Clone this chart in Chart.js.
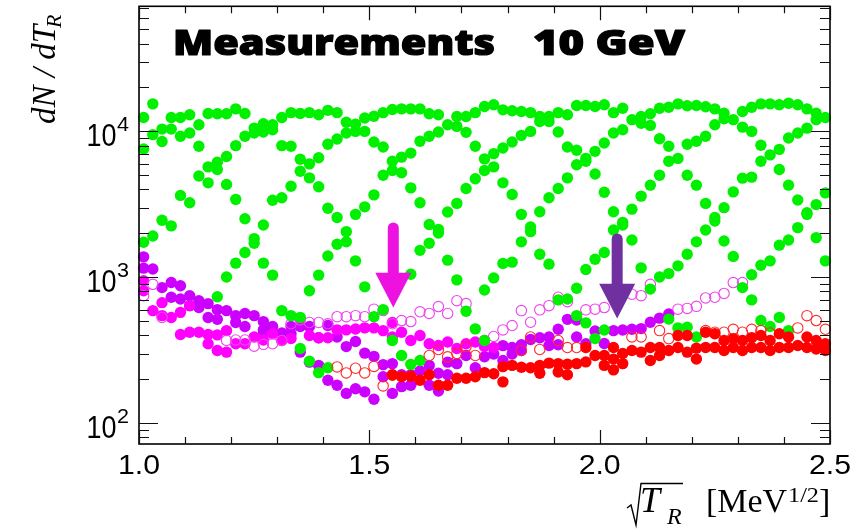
<!DOCTYPE html>
<html><head><meta charset="utf-8">
<script src="https://cdn.jsdelivr.net/npm/chart.js@4.4.1/dist/chart.umd.min.js"></script>
<style>html,body{margin:0;padding:0;background:#fff;}canvas{display:block;}</style>
</head><body>
<canvas id="c" width="867" height="529"></canvas>
<script>
// ---- axis ticks ----
const xMajorTicks = [1.0, 1.5, 2.0, 2.5];
const xTickLabels = ['1.0', '1.5', '2.0', '2.5'];
const xMinorTicks = [1.1, 1.2, 1.3, 1.4, 1.6, 1.7, 1.8, 1.9, 2.1, 2.2, 2.3, 2.4];
const yMajorTicks = [100, 1000, 10000];
const yTickExponents = ['2', '3', '4'];
const yMinorTicks = [80, 90, 200, 300, 400, 500, 600, 700, 800, 900,
  2000, 3000, 4000, 5000, 6000, 7000, 8000, 9000, 20000, 30000, 40000, 50000, 60000, 70000];

// ---- series: each row = [x, y1, y2, ...] ----
const greenFilled = [
  [1.01, 12460, 7570, 1740], [1.03, 15440, 9500, 1920], [1.05, 10370, 8520, 2460],
  [1.07, 12460, 10370, 2250], [1.09, 12460, 9250, 3640], [1.11, 13000, 9740, 3240],
  [1.13, 11100, 7900, 4950], [1.15, 13270, 5710, 4440], [1.17, 13210, 6140, 5480, 735],
  [1.19, 13210, 6720, 4330, 1005], [1.21, 14260, 7990, 3420, 1250], [1.23, 13270, 9250, 2520, 1480],
  [1.25, 10530, 9740, 1840, 1710], [1.27, 11280, 9900, 2280, 1250], [1.29, 11100, 10270, 3370, 1035],
  [1.31, 12460, 7990, 3510, 591], [1.33, 13440, 7900, 4210, 546], [1.35, 13270, 6440, 5330, 531, 325],
  [1.37, 13440, 5990, 4800, 809, 266], [1.39, 13000, 6590, 4170, 1035, 222], [1.41, 13940, 8160, 2970, 1400, 240],
  [1.43, 13440, 8860, 2570, 1685], [1.45, 11560, 9740, 2055, 1750], [1.47, 11210, 10000, 2700, 1296],
  [1.49, 12340, 10000, 3040, 860], [1.51, 12710, 8460, 3670, 537], [1.53, 13440, 7810, 5000, 600],
  [1.55, 14130, 6240, 5390, 369], [1.57, 14260, 6660, 5200, 291], [1.59, 14260, 7100, 4100, 1050, 253],
  [1.61, 14260, 8550, 3240, 1530, 269], [1.63, 13210, 9250, 2300, 1710], [1.65, 13000, 9900, 2130, 2010],
  [1.67, 11100, 2800, 1310], [1.69, 12660, 10820, 3210, 960], [1.71, 12660, 9850, 4060, 585],
  [1.73, 13440, 7900, 4740, 443], [1.75, 14810, 6480, 5390, 818, 369], [1.77, 15210, 7040, 5710, 990],
  [1.79, 14050, 7690, 4440, 1245], [1.81, 13860, 8460, 3690, 1270], [1.83, 13700, 9390, 2700, 1750],
  [1.85, 13440, 10000, 2210, 2055], [1.87, 12660, 11700, 2810, 1440], [1.89, 12660, 11700, 3510, 1230],
  [1.91, 13440, 9900, 4060, 700], [1.93, 13000, 7810, 4800, 710], [1.95, 15050, 7420, 5900, 842, 546],
  [1.97, 15050, 6530, 6240, 1130, 487], [1.99, 14810, 7300, 5100, 1330, 380], [2.01, 15210, 8330, 3830, 1480, 435],
  [2.03, 13440, 9740, 2810, 2110], [2.05, 14400, 10270, 2380, 2280], [2.07, 12030, 2930, 1800],
  [2.09, 12660, 11380, 3600, 1160], [2.11, 13210, 10990, 4280, 830], [2.13, 14400, 8900, 5000, 1005],
  [2.15, 14650, 7900, 6240, 1060, 517], [2.17, 15440, 6530, 1198, 450], [2.19, 14990, 8160, 5000, 1440, 455],
  [2.21, 15050, 8550, 4280, 1750, 390], [2.23, 14760, 9250, 3210, 2110], [2.25, 14260, 11100, 2570, 2430],
  [2.27, 13330, 12200, 3000, 1775], [2.29, 12030, 3850, 1390], [2.31, 13700, 10700, 4780, 850],
  [2.33, 14650, 10000, 4860, 1040, 700], [2.35, 15440, 8030, 6240, 1210, 505], [2.37, 15440, 6900, 1296, 460],
  [2.39, 15210, 7530, 5480, 1660, 531], [2.41, 15590, 9000, 4280, 1800, 431], [2.43, 15210, 9740, 3390, 2190],
  [2.45, 14260, 10530, 2770, 2700], [2.47, 13330, 12030, 3150, 1870], [2.49, 12460, 3790, 1296]
];
const magentaFilled = [
  [1.01, 946, 809], [1.03, 591], [1.05, 670, 546], [1.07, 530], [1.09, 575, 405], [1.11, 639, 420],
  [1.13, 420], [1.15, 405, 350], [1.17, 403, 315], [1.19, 431, 307], [1.21, 350], [1.23, 350],
  [1.25, 390], [1.27, 372], [1.29, 410], [1.31, 369], [1.33, 380], [1.35, 520], [1.37, 399],
  [1.39, 385], [1.41, 385], [1.43, 436], [1.45, 436], [1.47, 442], [1.49, 450], [1.51, 450],
  [1.53, 431], [1.55, 490, 390], [1.57, 420], [1.59, 369], [1.61, 399], [1.63, 350], [1.65, 341],
  [1.67, 360], [1.69, 325], [1.71, 350], [1.73, 360], [1.75, 369, 335], [1.77, 330]
];
const violetFilled = [
  [1.01, 1380, 1155], [1.03, 1140], [1.05, 850], [1.07, 920, 730], [1.09, 875, 710], [1.11, 748, 639],
  [1.13, 691, 620], [1.15, 660, 530], [1.17, 600, 515], [1.19, 591], [1.21, 546, 490], [1.23, 565, 460],
  [1.25, 546], [1.27, 497, 436, 410], [1.29, 460, 420], [1.31, 415], [1.33, 410, 460], [1.35, 307, 460],
  [1.37, 262, 460], [1.39, 249, 385], [1.41, 197, 467], [1.43, 182, 390], [1.45, 160, 335], [1.47, 172, 363],
  [1.49, 164, 302], [1.51, 146, 287], [1.53, 208, 252], [1.55, 160, 256], [1.57, 178, 215], [1.59, 182, 215],
  [1.61, 228], [1.63, 182, 249], [1.65, 166, 220], [1.67, 215, 262], [1.69, 256], [1.71, 291], [1.73, 240],
  [1.75, 285], [1.77, 298], [1.79, 340, 269], [1.81, 330, 298], [1.83, 315, 345], [1.85, 375], [1.87, 385],
  [1.89, 390, 341], [1.91, 345, 440], [1.93, 515], [1.95, 510, 390], [1.97, 350], [1.99, 428], [2.01, 352],
  [2.03, 431], [2.05, 435], [2.07, 440], [2.09, 445], [2.11, 492], [2.13, 525], [2.15, 560]
];
const magentaOpen = [
  [1.01, 748], [1.03, 895], [1.05, 530], [1.19, 369], [1.21, 372], [1.23, 372], [1.25, 337], [1.27, 347],
  [1.29, 350], [1.31, 369], [1.33, 480], [1.35, 510], [1.37, 490], [1.39, 490], [1.41, 480], [1.43, 537],
  [1.45, 537], [1.47, 546], [1.49, 537], [1.51, 605], [1.53, 591], [1.55, 480], [1.57, 505], [1.59, 497],
  [1.61, 580], [1.63, 565], [1.65, 630], [1.67, 565], [1.69, 691], [1.71, 660], [1.77, 393], [1.79, 436],
  [1.81, 467], [1.83, 591], [1.85, 492], [1.87, 598], [1.89, 639], [1.91, 730], [1.93, 680], [1.97, 598],
  [1.99, 605], [2.01, 620], [2.07, 765], [2.09, 748], [2.11, 895], [2.17, 605], [2.19, 612], [2.21, 632],
  [2.23, 722], [2.25, 730], [2.27, 775], [2.29, 920], [2.31, 920]
];
const redOpen = [
  [1.43, 243], [1.45, 221], [1.47, 238], [1.49, 221], [1.51, 245], [1.53, 180], [1.55, 213], [1.63, 291],
  [1.65, 320], [1.67, 285], [1.69, 300], [1.71, 335], [1.73, 291], [1.83, 315], [1.85, 390], [1.87, 320],
  [1.91, 369], [1.93, 330], [1.95, 330], [2.07, 390], [2.09, 390], [2.13, 431], [2.15, 380], [2.23, 431],
  [2.25, 420], [2.27, 420], [2.29, 440], [2.31, 420], [2.33, 440], [2.35, 431], [2.37, 415], [2.43, 450],
  [2.45, 546], [2.47, 505], [2.49, 440]
];
const redFilled = [
  [1.55, 215], [1.57, 208], [1.59, 210], [1.61, 197], [1.63, 215], [1.65, 182], [1.67, 182], [1.69, 203],
  [1.71, 203], [1.73, 208], [1.75, 222], [1.77, 218], [1.79, 192, 244], [1.81, 249], [1.83, 242], [1.85, 240],
  [1.87, 249, 220], [1.89, 258], [1.91, 256, 224], [1.93, 254, 215], [1.95, 256], [1.97, 263, 330], [1.99, 291],
  [2.01, 291, 249], [2.03, 232, 330, 275], [2.05, 300, 256], [2.07, 315], [2.09, 307], [2.11, 330, 269],
  [2.13, 330, 291], [2.15, 315], [2.17, 399, 330], [2.19, 399, 307], [2.21, 327, 275], [2.23, 420, 330],
  [2.25, 410, 330], [2.27, 369, 315], [2.29, 380, 330], [2.31, 369, 315], [2.33, 385, 330], [2.35, 399, 330],
  [2.37, 369, 315], [2.39, 410, 330], [2.41, 390, 330], [2.43, 341], [2.45, 390, 330], [2.47, 369, 322],
  [2.49, 350, 315]
];
// arrows: [x, yTop, yHeadBase, yTip]
const arrowMagenta = [1.552, 2355, 1073, 620];
const arrowPurple = [2.038, 1982, 903, 521];

function pts(rows) {
  const out = [];
  rows.forEach(r => { for (let i = 1; i < r.length; i++) out.push({x: r[0], y: r[i]}); });
  return out;
}
function filled(rows, color, r) {
  return {data: pts(rows), backgroundColor: color, borderColor: color, borderWidth: 0,
    pointRadius: r, pointHoverRadius: r, clip: false};
}
function open(rows, color) {
  return {data: pts(rows), backgroundColor: 'rgba(255,255,255,0)', borderColor: color, borderWidth: 1.1,
    pointRadius: 5.2, pointHoverRadius: 5.2, clip: false};
}

function fitText(ctx, text, x, y, w, bold) {
  const m = ctx.measureText(text).width;
  ctx.save(); ctx.translate(x, y); ctx.scale(w / m, 1);
  ctx.fillText(text, 0, 0);
  if (bold) { ctx.lineWidth = bold; ctx.lineJoin = 'round'; ctx.strokeText(text, 0, 0); }
  ctx.restore();
}

const decor = {
  id: 'decor',
  afterDatasetsDraw(chart) {
    const ctx = chart.ctx, a = chart.chartArea, xs = chart.scales.x, ys = chart.scales.y;
    ctx.save();
    // arrows
    [[arrowMagenta, '#ee12e0'], [arrowPurple, '#7030a0']].forEach(([ar, col]) => {
      const px = xs.getPixelForValue(ar[0]);
      const yTop = ys.getPixelForValue(ar[1]), yBase = ys.getPixelForValue(ar[2]), yTip = ys.getPixelForValue(ar[3]);
      ctx.strokeStyle = col; ctx.fillStyle = col; ctx.lineWidth = 11; ctx.lineCap = 'round';
      ctx.beginPath(); ctx.moveTo(px, yTop + 5); ctx.lineTo(px, yBase + 2); ctx.stroke();
      ctx.beginPath(); ctx.moveTo(px - 18, yBase); ctx.lineTo(px + 18, yBase); ctx.lineTo(px, yTip); ctx.closePath(); ctx.fill();
    });
    // frame
    ctx.strokeStyle = '#000'; ctx.lineWidth = 1.6; ctx.lineCap = 'butt';
    ctx.strokeRect(a.left, a.top, a.right - a.left, a.bottom - a.top);
    ctx.lineWidth = 1.2; ctx.strokeStyle = '#111';
    ctx.beginPath();
    xMajorTicks.forEach(v => { const p = Math.round(xs.getPixelForValue(v)) + 0.5;
      ctx.moveTo(p, a.bottom); ctx.lineTo(p, a.bottom - 14); ctx.moveTo(p, a.top); ctx.lineTo(p, a.top + 14); });
    xMinorTicks.forEach(v => { const p = Math.round(xs.getPixelForValue(v)) + 0.5;
      ctx.moveTo(p, a.bottom); ctx.lineTo(p, a.bottom - 7); ctx.moveTo(p, a.top); ctx.lineTo(p, a.top + 7); });
    yMajorTicks.forEach(v => { const p = Math.round(ys.getPixelForValue(v)) + 0.5;
      ctx.moveTo(a.left, p); ctx.lineTo(a.left + 19, p); ctx.moveTo(a.right, p); ctx.lineTo(a.right - 19, p); });
    yMinorTicks.forEach(v => { const p = Math.round(ys.getPixelForValue(v)) + 0.5;
      ctx.moveTo(a.left, p); ctx.lineTo(a.left + 10, p); ctx.moveTo(a.right, p); ctx.lineTo(a.right - 10, p); });
    ctx.stroke();

    // tick labels
    ctx.fillStyle = '#000'; ctx.strokeStyle = '#000'; ctx.textBaseline = 'alphabetic';
    ctx.font = '28px "Liberation Sans", Arial, sans-serif';
    ctx.textAlign = 'left';
    xMajorTicks.forEach((v, i) => {
      const p = xs.getPixelForValue(v);
      fitText(ctx, xTickLabels[i], p - 21, 474, 42);
    });
    yMajorTicks.forEach((v, i) => {
      const p = ys.getPixelForValue(v);
      ctx.font = '32px "Liberation Sans", Arial, sans-serif';
      fitText(ctx, '10', 86.5, p + 15, 30);
      ctx.font = '21px "Liberation Sans", Arial, sans-serif';
      fitText(ctx, yTickExponents[i], 117, p, 12);
    });

    // title
    ctx.font = '800 35px "Open Sans", "Noto Sans", sans-serif';
    fitText(ctx, 'Measurements', 173, 55, 322, 1.2);
    fitText(ctx, '10 GeV', 533, 55, 152, 1.2);

    // y axis title
    ctx.save();
    ctx.translate(55, 124); ctx.rotate(-Math.PI / 2);
    ctx.font = 'italic 33px "Liberation Serif", "DejaVu Serif", serif';
    ctx.fillText('dN / dT', 0, 0);
    const w1 = ctx.measureText('dN / dT').width;
    ctx.font = 'italic 22px "Liberation Serif", serif';
    ctx.fillText('R', w1 - 3, 6);
    ctx.restore();

    // x axis title
    ctx.lineWidth = 1.4;
    ctx.beginPath(); ctx.moveTo(627, 508); ctx.lineTo(631, 505); ctx.lineTo(636, 525); ctx.lineTo(641, 483.5); ctx.lineTo(683, 483.5); ctx.stroke();
    ctx.font = 'italic 36px "Liberation Serif", serif';
    ctx.fillText('T', 640, 512);
    ctx.font = 'italic 24px "Liberation Serif", serif';
    ctx.fillText('R', 667, 524);
    ctx.font = '34px "Liberation Serif", serif';
    fitText(ctx, '[MeV', 706, 512, 81);
    ctx.font = '22px "Liberation Serif", serif';
    fitText(ctx, '1/2', 788, 502, 31);
    ctx.font = '34px "Liberation Serif", serif';
    ctx.fillText(']', 819, 512);
    ctx.restore();
  }
};

new Chart(document.getElementById('c'), {
  type: 'scatter',
  data: { datasets: [
    filled(redFilled, '#ff0000', 5.7),
    open(redOpen, '#ff2a2a'),
    filled(greenFilled, '#00f000', 5.7),
    open(magentaOpen, '#ee44ee'),
    filled(magentaFilled, '#ff00ff', 5.7),
    filled(violetFilled, '#cc00ff', 5.7)
  ]},
  options: {
    responsive: false, animation: false, devicePixelRatio: 1,
    layout: { padding: { left: 139, right: 37, top: 5, bottom: 85 } },
    plugins: { legend: { display: false }, tooltip: { enabled: false } },
    scales: {
      x: { type: 'linear', min: 1.0, max: 2.5, display: false },
      y: { type: 'logarithmic', min: 72, max: 72000, display: false }
    }
  },
  plugins: [decor]
});
</script>
</body></html>
